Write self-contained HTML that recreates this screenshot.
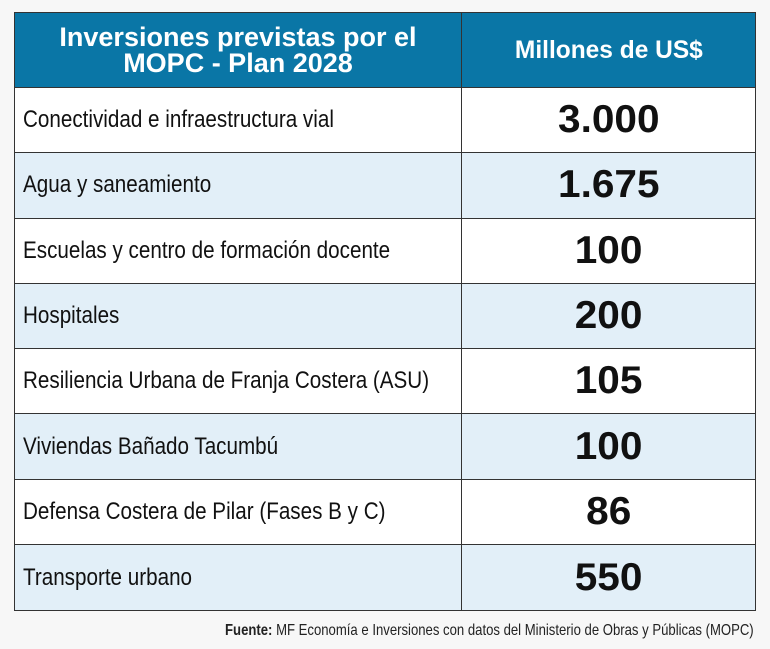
<!DOCTYPE html>
<html><head><meta charset="utf-8"><style>
body{margin:0;width:770px;height:649px;background:#f7f7f7;font-family:"Liberation Sans",sans-serif;position:relative;overflow:hidden}
.t{position:absolute;left:14px;top:12px;width:742px;border:1.5px solid #333;box-sizing:border-box}
.hd{display:flex;height:74px;background:#0a76a6;color:#fff;font-weight:bold;border-bottom:1.5px solid #333}
.c1{width:447px;border-right:1.5px solid #333;box-sizing:border-box;display:flex;align-items:center;justify-content:center}
.c2{flex:1;display:flex;align-items:center;justify-content:center}
.hd .c1 span{display:inline-block;font-size:27px;line-height:26px;text-align:center;transform:scaleX(1.0)}
.hd .c2 span{display:inline-block;font-size:25px;transform:scaleX(.98)}
.r{display:flex;height:65.3px;border-bottom:1.5px solid #333;box-sizing:border-box;background:#fff}
.r:last-child{border-bottom:none}
.r:nth-child(odd){background:#e2eff8}
.r .c1{justify-content:flex-start;padding-left:8px}
.r .c1 span{display:inline-block;font-size:24px;color:#111;transform:scaleX(.86);transform-origin:left center;white-space:nowrap}
.r .c2 span{font-size:39px;font-weight:bold;color:#111;display:inline-block;transform:scaleX(1.04)}
.f{position:absolute;right:16px;top:622px;font-size:16px;color:#222;transform:scaleX(.82);transform-origin:right center;white-space:nowrap}
</style></head><body>
<div class="t">
<div class="hd"><div class="c1"><span>Inversiones previstas por el<br>MOPC - Plan 2028</span></div><div class="c2"><span>Millones de US$</span></div></div>
<div class="r"><div class="c1"><span>Conectividad e infraestructura vial</span></div><div class="c2"><span>3.000</span></div></div>
<div class="r"><div class="c1"><span>Agua y saneamiento</span></div><div class="c2"><span>1.675</span></div></div>
<div class="r"><div class="c1"><span>Escuelas y centro de formación docente</span></div><div class="c2"><span>100</span></div></div>
<div class="r"><div class="c1"><span>Hospitales</span></div><div class="c2"><span>200</span></div></div>
<div class="r"><div class="c1"><span>Resiliencia Urbana de Franja Costera (ASU)</span></div><div class="c2"><span>105</span></div></div>
<div class="r"><div class="c1"><span>Viviendas Bañado Tacumbú</span></div><div class="c2"><span>100</span></div></div>
<div class="r"><div class="c1"><span>Defensa Costera de Pilar (Fases B y C)</span></div><div class="c2"><span>86</span></div></div>
<div class="r"><div class="c1"><span>Transporte urbano</span></div><div class="c2"><span>550</span></div></div>
</div>
<div class="f"><b>Fuente:</b> MF Economía e Inversiones con datos del Ministerio de Obras y Públicas (MOPC)</div>
</body></html>
